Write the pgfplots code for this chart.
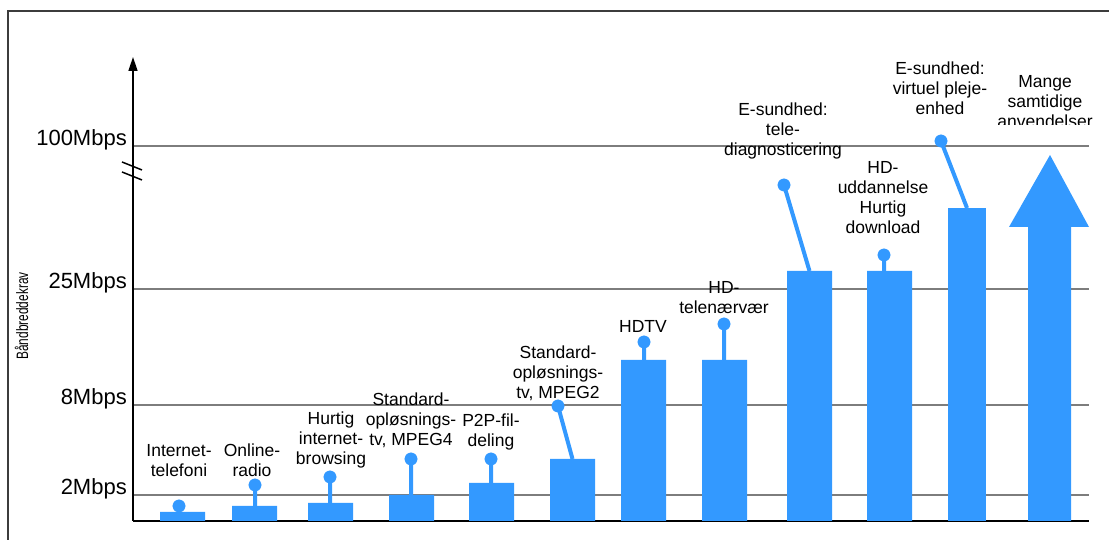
\documentclass[border=0pt]{standalone}
\usepackage{fontspec}
\setmainfont{Liberation Sans}
\usepackage{pgfplots}
\pgfplotsset{compat=1.18}
\usetikzlibrary{arrows.meta}

\definecolor{bblue}{RGB}{51,153,255}
\definecolor{gridgray}{RGB}{125,125,125}
\definecolor{framegray}{RGB}{60,60,60}

\begin{document}
\begin{tikzpicture}[x=1pt,y=1pt,
  lbl/.style={font=\fontsize{17.5}{20}\selectfont, align=center, inner sep=0pt}]
\path[use as bounding box] (0,0) rectangle (1109,540);

\begin{axis}[
  at={(133pt,19pt)}, anchor=south west,
  scale only axis, width=956pt, height=464pt,
  xmin=133, xmax=1089, ymin=0, ymax=464,
  clip=false,
  axis x line=bottom, axis y line=left,
  x axis line style={-, line width=1.5pt},
  y axis line style={-{Triangle[length=14pt,width=9pt]}, line width=1.5pt},
  xtick=\empty,
  ytick={26,116,232,375},
  yticklabels={2Mbps,8Mbps,25Mbps,100Mbps},
  major tick length=0pt,
  yticklabel style={font=\fontsize{22}{24}\selectfont, anchor=base east, inner sep=0pt, xshift=-6pt},
  ymajorgrids, grid style={gridgray, line width=2pt},
]
% bars (heights in chart units above the base line)
\addplot[ybar, bar width=45, bar shift=0pt, fill=bblue, draw=none] coordinates {
  (182.5,9) (254.5,15) (330.5,18) (411.5,26) (491.5,38) (572.5,62)
  (643.5,161) (724.5,161) (809.5,250) (889.5,250)
};
\addplot[ybar, bar width=38, bar shift=0pt, fill=bblue, draw=none] coordinates {(967,313)};

% big arrow: many simultaneous uses
\addplot[fill=bblue, draw=none] coordinates {
  (1028,0) (1071,0) (1071,294) (1089,294) (1050,366) (1009,294) (1028,294)
} -- cycle;

% lollipop stems
\addplot[bblue, line width=4pt, unbounded coords=jump] coordinates {
  (255,15) (255,36) (255,nan)
  (330,18) (330,44) (330,nan)
  (411,26) (411,62) (411,nan)
  (491,38) (491,62) (491,nan)
  (572.5,62) (558,115) (558,nan)
  (644,161) (644,179) (644,nan)
  (724,161) (724,197) (724,nan)
  (809.5,250) (784,336) (784,nan)
  (884,250) (884,266) (884,nan)
  (967,313) (941,380)
};
% lollipop heads
\addplot[only marks, mark=*, mark size=6.2pt, bblue] coordinates {
  (179,15) (255,36) (330,44) (411,62) (491,62) (558,115)
  (644,179) (724,197) (784,336) (884,266) (941,380)
};

\node[lbl] at (179,60) {Internet-\\telefoni};
\node[lbl] at (252,61) {Online-\\radio};
\node[lbl] at (331,81) {Hurtig\\internet-\\browsing};
\node[lbl] at (411,101) {Standard-\\opløsnings-\\tv, MPEG4};
\node[lbl] at (491,89) {P2P-fil-\\deling};
\node[lbl] at (558,148) {Standard-\\opløsnings-\\tv, MPEG2};
\node[lbl] at (643,195) {HDTV};
\node[lbl] at (724,223) {HD-\\telenærvær};
\node[lbl] at (783,390) {E-sundhed:\\tele-\\diagnosticering};
\node[lbl] at (883,323.5) {HD-\\uddannelse\\Hurtig\\download};
\node[lbl] at (940,432.5) {E-sundhed:\\virtuel pleje-\\enhed};
\node[lbl] at (1045,419) {Mange\\samtidige\\anvendelser};
\end{axis}

% clipped bottom of the last label
\fill[white] (995,404) rectangle (1095,415);

% axis break marks
\draw[line width=1.5pt] (122,378) -- (142,370);
\draw[line width=1.5pt] (122,368) -- (142,360);

% axis title (condensed as in the original)
\node[rotate=90, anchor=base, inner sep=0pt, font=\fontsize{16.5}{18}\selectfont] at (28,224) {\scalebox{0.72}[1]{Båndbreddekrav}};

% frame
\draw[framegray, line width=1.3pt] (8,0) -- (8,529) -- (1109,529);
\end{tikzpicture}
\end{document}
